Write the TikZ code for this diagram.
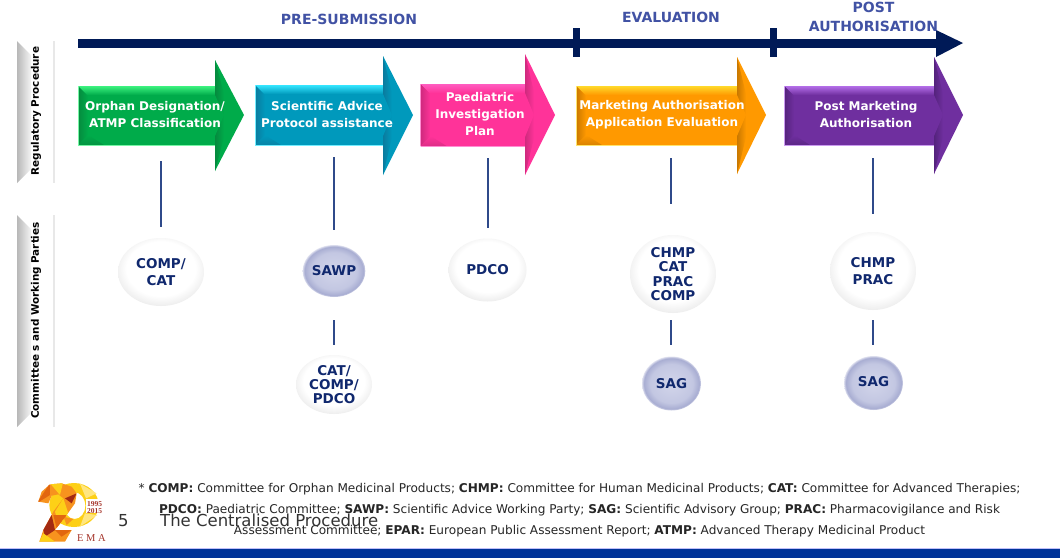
\documentclass[tikz,border=0pt]{standalone}
\usepackage{fontspec}
\setmainfont{DejaVu Sans}
\newfontfamily\logofont{Liberation Serif}
\usetikzlibrary{shapes.geometric}
\definecolor{navy}{HTML}{001A57}
\definecolor{headc}{HTML}{4152A4}
\definecolor{linec}{HTML}{2F4A8A}
\definecolor{textc}{HTML}{10286E}
\definecolor{band}{HTML}{003399}
\definecolor{gm}{HTML}{00AB4A}\definecolor{gl}{HTML}{3CF27F}\definecolor{gd}{HTML}{058A3E}
\definecolor{bm}{HTML}{0099BC}\definecolor{bl}{HTML}{35E6FF}\definecolor{bd}{HTML}{0A7B9E}
\definecolor{pm}{HTML}{FF3399}\definecolor{pl}{HTML}{FF5CC0}\definecolor{pd}{HTML}{CF2A7E}
\definecolor{om}{HTML}{FF9900}\definecolor{ol}{HTML}{FFD92B}\definecolor{od}{HTML}{C97800}
\definecolor{vm}{HTML}{6F2F9F}\definecolor{vl}{HTML}{B46EE8}\definecolor{vd}{HTML}{54237C}
\definecolor{ballA}{HTML}{D2D5EA}\definecolor{ballB}{HTML}{C3C7E2}\definecolor{ballC}{HTML}{A8ADD2}\definecolor{ballD}{HTML}{EAEBF5}
\definecolor{lgO}{HTML}{F7931E}\definecolor{lgD}{HTML}{E2660F}\definecolor{lgR}{HTML}{A32A12}
\definecolor{lgY}{HTML}{FDD017}\definecolor{lgL}{HTML}{FFE680}\definecolor{lgT}{HTML}{A5342A}
\pgfdeclareradialshading{wballshade}{\pgfpoint{0bp}{4bp}}{color(0bp)=(white);color(20bp)=(white);color(27bp)=(black!7);color(29bp)=(black!2);color(50bp)=(white)}
\pgfdeclareradialshading{bballshade}{\pgfpoint{0bp}{0bp}}{color(0bp)=(ballA);color(18bp)=(ballB);color(23.5bp)=(ballC);color(25.5bp)=(ballD);color(50bp)=(white)}
\tikzset{
  x=1pt,y=-1pt,
  conn/.style={linec,line width=1.5pt},
  headtxt/.style={font=\bfseries\fontsize{14}{19}\selectfont,text=headc,align=center,inner sep=0pt},
  arrowtxt/.style={font=\bfseries\fontsize{12}{17}\selectfont,text=white,align=center,inner sep=0pt},
  sidetxt/.style={font=\bfseries\fontsize{10.4}{13}\selectfont,text=black,rotate=90,inner sep=0pt},
  foot/.style={font=\fontsize{12.1}{15}\selectfont,text=black!85,inner sep=0pt,anchor=base},
  slide/.style={font=\fontsize{16.5}{18}\selectfont,text=black!80,inner sep=0pt,anchor=base west},
  ballbase/.style={ellipse,shade,text=textc,align=center,inner sep=0pt,font=\bfseries\fontsize{13.5}{14.4}\selectfont},
  wball/.style={ballbase,shading=wballshade},
  bball/.style={ballbase,shading=bballshade},
  logotxt/.style={text=lgT,inner sep=0pt,font=\logofont},
}
% x0, xbase, xtip, shaft top, shaft bottom, head top, head bottom, tip y, colour prefix
\newcommand{\bevelarrow}[9]{%
  \fill[#9m] (#1,#4)--(#2,#4)--(#2,#6)--(#3,#8)--(#2,#7)--(#2,#5)--(#1,#5)--cycle;
  \shade[top color=#9l,bottom color=#9m] (#1,#4)--(#2,#4)--(#2+9,#4+9)--(#1+9,#4+9)--cycle;
  \shade[left color=#9d,right color=#9m] (#1,#4)--(#1+10,#4+10)--(#1+10,#5-10)--(#1,#5)--cycle;
  \shade[top color=#9m,bottom color=#9d!70!#9m] (#1,#5)--(#1+10,#5-10)--(#1+26,#5)--cycle;
  \draw[#9l!70!white,line width=.6pt] (#1,#5)--(#2,#5);
  \draw[#9l!70!white,line width=.6pt] (#1,#4)--(#1,#5);
  \shade[left color=#9d,right color=#9m] (#2,#6)--(#2+9,#4+8)--(#2+9,#8)--(#2,#8)--cycle;
  \shade[left color=#9d,right color=#9m] (#2,#7)--(#2+9,#5-8)--(#2+9,#8)--(#2,#8)--cycle;
  \fill[#9m] (#2,#4+9)--(#2+9,#8)--(#2,#5-9)--cycle;
}
\begin{document}
\begin{tikzpicture}
\useasboundingbox (0,0) rectangle (1060,558);
\fill[white] (0,0) rectangle (1060,558);

% side panels
\foreach \ya/\yb in {41/183,215/427}{
  \shade[left color=black!28,right color=black!4] (17,\ya)--(31,\ya+14)--(31,\yb-14)--(17,\yb)--cycle;
  \fill[black!9] (53,\ya) rectangle (55,\yb);
}
\node[sidetxt] (sidea) at (36,111) {Regulatory Procedure};
\node[sidetxt] (sideb) at (36,320.5) {Committee s and Working Parties};

% timeline
\fill[navy] (78,38.5) rectangle (937,47.7);
\fill[navy] (936,30)--(963,43)--(936,57)--cycle;
\fill[navy] (572.5,28) rectangle (579.5,57);
\fill[navy] (769.7,28) rectangle (776.7,57);
\node[headtxt] (pre) at (349,19) {PRE-SUBMISSION};
\node[headtxt] (eval) at (671,17.5) {EVALUATION};
\node[headtxt] (post) at (873.5,16.5) {POST\\AUTHORISATION};

% process arrows
\bevelarrow{78}{215}{244}{86}{145}{60}{171}{115}{g}
\bevelarrow{255}{383}{413}{85}{145}{56}{175}{115}{b}
\bevelarrow{420.5}{525}{555}{84}{146}{54}{175}{115}{p}
\bevelarrow{576}{737}{766}{86}{145}{57}{174}{115}{o}
\bevelarrow{784}{934}{963}{86}{145}{57}{174}{115}{v}
\node[arrowtxt] (a1) at (155,115) {Orphan Designation/\\ATMP Classification};
\node[arrowtxt] (a2) at (327,115) {Scientific Advice\\Protocol assistance};
\node[arrowtxt] (a3) at (480,114) {Paediatric\\Investigation\\Plan};
\node[arrowtxt] (a4) at (662,115) {Marketing Authorisation\\Application Evaluation};
\node[arrowtxt] (a5) at (866,115) {Post Marketing\\Authorisation};

% committees
\node[wball,minimum width=86pt,minimum height=68pt,font=\bfseries\fontsize{13.5}{17}\selectfont] (comp) at (161,272) {COMP/\\CAT};
\node[bball,minimum width=57pt,minimum height=52pt] (sawp) at (334,271) {SAWP};
\node[wball,minimum width=76pt,minimum height=59pt] (cat) at (334,384.5) {CAT/\\COMP/\\PDCO};
\node[wball,minimum width=78pt,minimum height=63pt] (pdco) at (487.5,270) {PDCO};
\node[wball,minimum width=86pt,minimum height=78pt] (chmpa) at (673,274) {CHMP\\CAT\\PRAC\\COMP};
\node[bball,minimum width=59pt,minimum height=54pt] (saga) at (671.5,383.5) {SAG};
\node[wball,minimum width=86pt,minimum height=78pt,font=\bfseries\fontsize{13.5}{17}\selectfont] (chmpb) at (873,271) {CHMP\\PRAC};
\node[bball,minimum width=59pt,minimum height=54pt] (sagb) at (873.5,383) {\raisebox{4pt}{SAG}};

% connectors
\coordinate (t1) at (160.8,161); \coordinate (b1) at (160.8,227);
\coordinate (t2) at (334,157);   \coordinate (b2) at (334,230);
\coordinate (t3) at (334,320);   \coordinate (b3) at (334,345);
\coordinate (t4) at (488,158);   \coordinate (b4) at (488,228);
\coordinate (t5) at (671.2,158); \coordinate (b5) at (671.2,204);
\coordinate (t6) at (671.2,320); \coordinate (b6) at (671.2,345);
\coordinate (t7) at (873.2,158); \coordinate (b7) at (873.2,214);
\coordinate (t8) at (873.2,320); \coordinate (b8) at (873.2,345);
\foreach \i in {1,...,8}{\draw[conn] (t\i) -- (b\i);}

% logo
\begin{scope}[shift={(30,475)},x=.3333pt,y=-.3333pt]
  % the 0
  \fill[lgY,even odd rule] (132,90) ellipse [x radius=74,y radius=66] (134,92) ellipse [x radius=32,y radius=40];
  \fill[lgL] (150,26)--(200,55)--(168,70)--cycle;
  \fill[lgL] (165,115)--(202,120)--(150,155)--cycle;
  \fill[lgO] (100,125)--(130,132)--(110,150)--cycle;
  \fill[white] (168,72) rectangle (225,114);
  % the 2
  \begin{scope}
    \clip (25,80)--(35,50)--(60,28)--(95,25)--(125,35)--(140,55)--(135,85)--(110,120)--(75,165)--(125,165)--(105,200)--(28,200)--(40,165)--(70,110)--(100,70)--(85,58)--(65,62)--(55,85)--cycle;
    \fill[lgO] (20,20) rectangle (145,205);
    \fill[lgD] (20,85)--(60,25)--(60,60)--cycle;
    \fill[lgY] (60,25)--(100,20)--(90,60)--cycle;
    \fill[lgY] (100,70)--(75,110)--(85,145)--(115,115)--cycle;
    \fill[lgR] (140,55)--(105,70)--(125,85)--cycle;
    \fill[lgD] (70,120)--(110,120)--(80,160)--cycle;
    \fill[lgR] (40,165)--(65,120)--(75,165)--(45,185)--cycle;
    \fill[lgY] (28,200)--(40,175)--(75,200)--cycle;
    \fill[lgD] (75,165)--(125,165)--(95,185)--cycle;
  \end{scope}
\end{scope}
\node[logotxt,font=\logofont\bfseries\fontsize{7.5}{7.5}\selectfont,align=center] (yrs) at (94.5,507.5) {1995\\2015};
\node[logotxt,font=\logofont\fontsize{10.5}{12}\selectfont,anchor=base west] (ema) at (77,541) {E M A};

% footer
\node[foot] (f1) at (579.5,492) {* \textbf{COMP:} Committee for Orphan Medicinal Products; \textbf{CHMP:} Committee for Human Medicinal Products; \textbf{CAT:} Committee for Advanced Therapies;};
\node[foot] (f2) at (579.5,513) {\textbf{PDCO:} Paediatric Committee; \textbf{SAWP:} Scientific Advice Working Party; \textbf{SAG:} Scientific Advisory Group; \textbf{PRAC:} Pharmacovigilance and Risk};
\node[foot] (f3) at (579.5,534) {Assessment Committee; \textbf{EPAR:} European Public Assessment Report; \textbf{ATMP:} Advanced Therapy Medicinal Product};
\node[slide] (pg) at (118,526) {5};
\node[slide] (ttl) at (160,526) {The Centralised Procedure};

% band
\fill[band] (0,549) rectangle (1060,558);
\fill[black!10!blue!25] (0,548.2) rectangle (1060,549);
\end{tikzpicture}
\end{document}
